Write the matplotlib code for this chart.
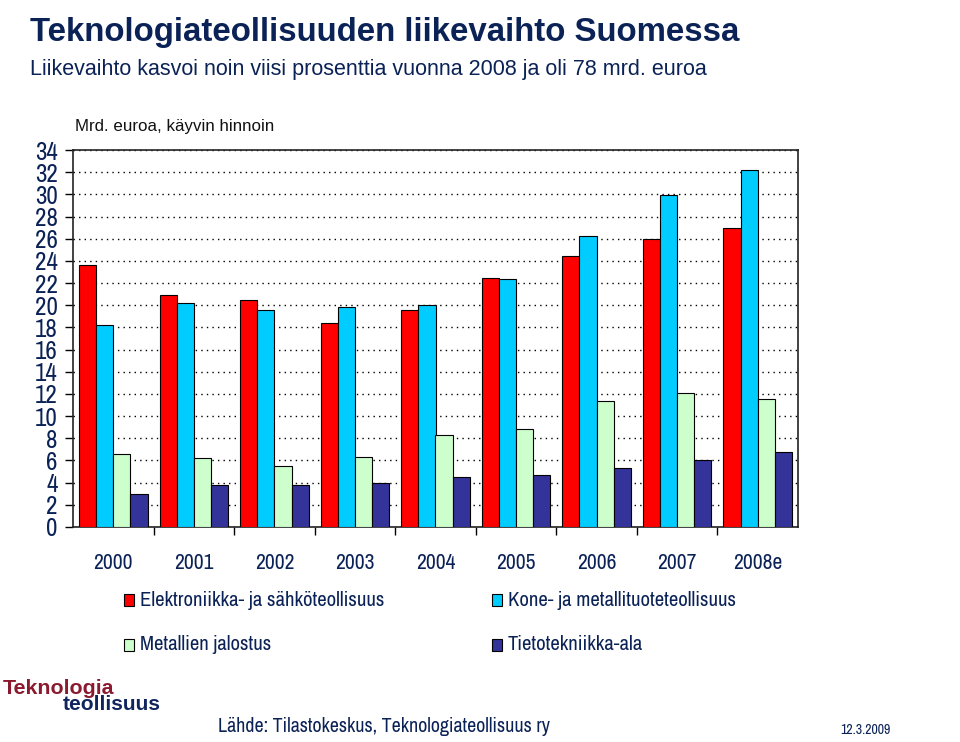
import matplotlib
matplotlib.use("Agg")
import matplotlib.pyplot as plt
import numpy as np
from matplotlib.patches import Rectangle

years = ["2000", "2001", "2002", "2003", "2004", "2005", "2006", "2007", "2008e"]
elektroniikka = [23.6, 20.9, 20.5, 18.4, 19.6, 22.5, 24.4, 26.0, 27.0]
kone = [18.2, 20.2, 19.6, 19.8, 20.0, 22.4, 26.2, 29.9, 32.2]
metallien = [6.6, 6.2, 5.5, 6.3, 8.3, 8.8, 11.4, 12.1, 11.5]
tietotekniikka = [3.0, 3.8, 3.8, 4.0, 4.5, 4.7, 5.3, 6.0, 6.8]

series_names = ["Elektroniikka- ja sähköteollisuus", "Kone- ja metallituoteteollisuus",
                "Metallien jalostus", "Tietotekniikka-ala"]
series_colors = ["#FF0000", "#00CCFF", "#CCFFCC", "#333399"]
yticks = list(range(0, 35, 2))

import logging
logging.getLogger("matplotlib.font_manager").setLevel(logging.ERROR)
from matplotlib import font_manager as fm
_installed = {f.name for f in fm.fontManager.ttflist}
_cands = ["Liberation Sans Narrow", "Arial Narrow", "Archivo Narrow", "Roboto Condensed",
          "Arimo", "Liberation Sans"]
NARROW = [c for c in _cands if c in _installed][:1] + ["DejaVu Sans"]
REG = ["Liberation Sans", "DejaVu Sans"]
NAVY = "#0B2256"

fig = plt.figure(figsize=(9.6, 7.42), dpi=100)
ax = fig.add_axes([73/960, 1-527/742, (798-73)/960, (527-150)/742])

x = np.arange(len(years))
w = 0.213
data = [elektroniikka, kone, metallien, tietotekniikka]
for i, (vals, c) in enumerate(zip(data, series_colors)):
    ax.bar(x + (i - 1.5) * w, vals, width=w, color=c, edgecolor="black",
           linewidth=0.8, zorder=3)

ax.set_xlim(-0.5, len(years) - 0.5)
ax.set_ylim(0, 34)
ax.set_yticks(yticks)
ax.set_yticklabels([str(v) for v in yticks], family=NARROW, fontsize=18, color=NAVY)
ax.set_xticks(np.arange(len(years) - 1) + 0.5, minor=False)
ax.set_xticklabels([])
ax.set_xticks(x, minor=True)
ax.set_xticklabels(years, minor=True, family=NARROW, fontsize=15.5, color=NAVY)
ax.tick_params(axis="x", which="major", length=6, width=1, direction="out")
ax.tick_params(axis="x", which="minor", length=0, pad=19)
ax.tick_params(axis="y", length=6, width=1, direction="out", pad=5)
ax.yaxis.grid(True, linestyle=(0, (1, 3)), color="black", linewidth=1, zorder=0)
ax.set_axisbelow(True)
for s in ax.spines.values():
    s.set_color("#222222")
    s.set_linewidth(1.2)

fig.text(30/960, 1-33/742, "Teknologiateollisuuden liikevaihto Suomessa", family=REG,
         fontsize=23.8, fontweight="bold", color=NAVY, va="center", ha="left")
fig.text(30/960, 1-70/742, "Liikevaihto kasvoi noin viisi prosenttia vuonna 2008 ja oli 78 mrd. euroa",
         family=REG, fontsize=15.5, color=NAVY, va="center", ha="left")
fig.text(75/960, 1-126/742, "Mrd. euroa, käyvin hinnoin", family=REG, fontsize=12.2,
         color="#111111", va="center", ha="left")

# legend
leg_pos = [(124, 600), (492, 600), (124, 645), (492, 645)]
for (px, py), name, c in zip(leg_pos, series_names, series_colors):
    fig.patches.append(Rectangle((px/960, 1-(py+6)/742), 10/960, 12/742, transform=fig.transFigure,
                                 facecolor=c, edgecolor="black", linewidth=0.8))
    fig.text((px+16)/960, 1-py/742, name, family=NARROW, fontsize=14.9, color=NAVY,
             va="center", ha="left")

# logo
fig.text(3/960, 1-688/742, "Teknologia", family=REG, fontsize=15.4, fontweight="bold",
         color="#8B1A2E", va="center", ha="left")
fig.text(63/960, 1-705/742, "teollisuus", family=REG, fontsize=15, fontweight="bold",
         color="#10245E", va="center", ha="left")

fig.text(218/960, 1-727/742, "Lähde: Tilastokeskus, Teknologiateollisuus ry", family=NARROW,
         fontsize=14.4, color=NAVY, va="center", ha="left")
fig.text(840/960, 1-730/742, "12.3.2009", family=NARROW, fontsize=10, color=NAVY,
         va="center", ha="left")

fig.savefig("out.png", dpi=100)
